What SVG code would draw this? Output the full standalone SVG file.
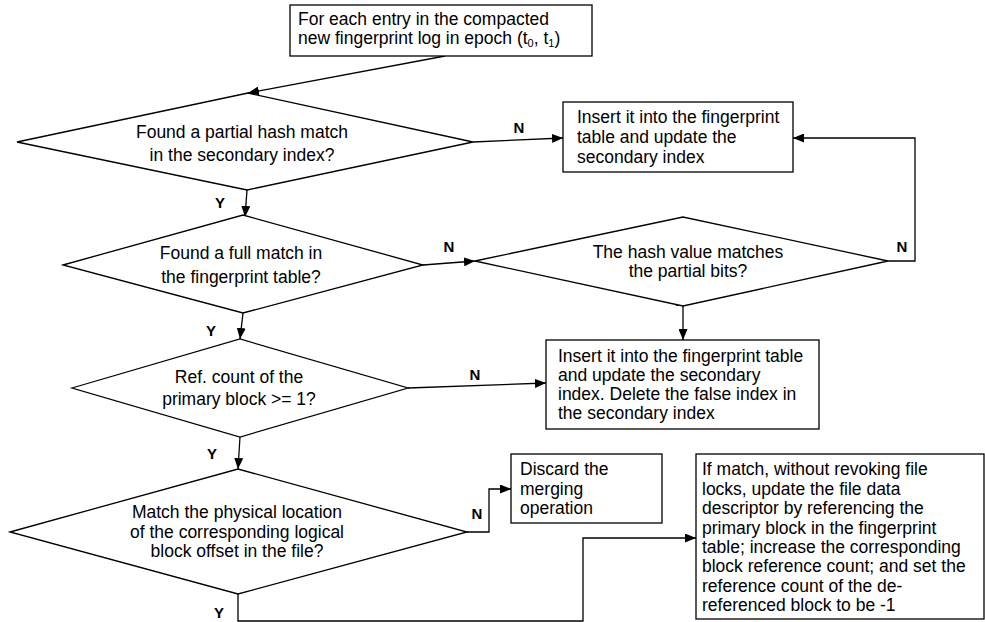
<svg xmlns="http://www.w3.org/2000/svg" width="985" height="622" viewBox="0 0 985 622">
<style>
  .shape { fill: #ffffff; stroke: #000000; stroke-width: 1.3; }
  .t { font-family: "Liberation Sans", Arial, sans-serif; font-size: 17.5px; fill: #000000; }
  .c { text-anchor: middle; }
  .lbl { font-family: "Liberation Sans", Arial, sans-serif; font-size: 15px; font-weight: bold; fill: #000000; text-anchor: middle; }
  .conn { fill: none; stroke: #000000; stroke-width: 1.3; marker-end: url(#arrow); }
</style>
<defs>
  <marker id="arrow" markerUnits="userSpaceOnUse" markerWidth="11" markerHeight="9" refX="11" refY="4.5" orient="auto">
    <path d="M0,0 L11,4.5 L0,9 z" fill="#000000"/>
  </marker>
</defs>
<rect width="985" height="622" fill="#ffffff"/>

<g id="connectors">
  <path class="conn" d="M445,56 L248,93"/>
  <path class="conn" d="M473,142 L563,138"/>
  <path class="conn" d="M247,190 L245,217"/>
  <path class="conn" d="M423,265 L475,261"/>
  <path class="conn" d="M888,261 L915,261 L915,138 L793,138"/>
  <path class="conn" d="M683,306 L683,340"/>
  <path class="conn" d="M243,313 L240,339"/>
  <path class="conn" d="M408,388 L546,383"/>
  <path class="conn" d="M240,437 L238,469"/>
  <path class="conn" d="M467,532 L489,532 L489,489 L511,489"/>
  <path class="conn" d="M238,594 L238,621 L583,621 L583,538 L696,538"/>
  <text class="lbl" x="519" y="133">N</text>
  <text class="lbl" x="220" y="208">Y</text>
  <text class="lbl" x="449" y="252">N</text>
  <text class="lbl" x="902" y="252">N</text>
  <text class="lbl" x="677" y="306">Y</text>
  <text class="lbl" x="211" y="336">Y</text>
  <text class="lbl" x="475" y="380">N</text>
  <text class="lbl" x="212" y="459">Y</text>
  <text class="lbl" x="477" y="519">N</text>
  <text class="lbl" x="219" y="618">Y</text>
</g>

<g id="start">
  <rect class="shape" x="290" y="5" width="302" height="51"/>
  <text class="t" x="298" y="25">For each entry in the compacted</text>
  <text class="t" x="298" y="44">new fingerprint log in epoch (t<tspan font-size="11" dy="3">0</tspan><tspan dy="-3">, t</tspan><tspan font-size="11" dy="3">1</tspan><tspan dy="-3">)</tspan></text>
</g>

<g id="d1">
  <polygon class="shape" points="17,142 248,93 473,142 247,190"/>
  <text class="t c" x="242" y="138">Found a partial hash match</text>
  <text class="t c" x="242" y="161">in the secondary index?</text>
</g>

<g id="box2">
  <rect class="shape" x="563" y="102" width="230" height="70"/>
  <text class="t" x="577" y="123">Insert it into the fingerprint</text>
  <text class="t" x="577" y="143">table and update the</text>
  <text class="t" x="577" y="163">secondary index</text>
</g>

<g id="d2">
  <polygon class="shape" points="63,265 243,215 423,265 243,313"/>
  <text class="t c" x="241" y="259">Found a full match in</text>
  <text class="t c" x="241" y="283">the fingerprint table?</text>
</g>

<g id="d3">
  <polygon class="shape" points="475,261 683,217 888,261 683,306"/>
  <text class="t c" x="688" y="258">The hash value matches</text>
  <text class="t c" x="688" y="277">the partial bits?</text>
</g>

<g id="box3">
  <rect class="shape" x="546" y="340" width="273" height="89"/>
  <text class="t" x="558" y="362">Insert it into the fingerprint table</text>
  <text class="t" x="558" y="381">and update the secondary</text>
  <text class="t" x="558" y="400">index. Delete the false index in</text>
  <text class="t" x="558" y="419">the secondary index</text>
</g>

<g id="d4">
  <polygon class="shape" points="72,388 240,339 408,388 240,437"/>
  <text class="t c" x="239" y="383">Ref. count of the</text>
  <text class="t c" x="239" y="405">primary block &gt;= 1?</text>
</g>

<g id="d5">
  <polygon class="shape" points="10,532 238,469 467,532 238,594"/>
  <text class="t c" x="237" y="518">Match the physical location</text>
  <text class="t c" x="237" y="538">of the corresponding logical</text>
  <text class="t c" x="237" y="557">block offset in the file?</text>
</g>

<g id="discard">
  <rect class="shape" x="511" y="454" width="151" height="69"/>
  <text class="t" x="520" y="475">Discard the</text>
  <text class="t" x="520" y="495">merging</text>
  <text class="t" x="520" y="514">operation</text>
</g>

<g id="update">
  <rect class="shape" x="696" y="454" width="288" height="165"/>
  <text class="t" x="702" y="475">If match, without revoking file</text>
  <text class="t" x="702" y="495">locks, update the file data</text>
  <text class="t" x="702" y="514">descriptor by referencing the</text>
  <text class="t" x="702" y="534">primary block in the fingerprint</text>
  <text class="t" x="702" y="553">table; increase the corresponding</text>
  <text class="t" x="702" y="572">block reference count; and set the</text>
  <text class="t" x="702" y="592">reference count of the de-</text>
  <text class="t" x="702" y="611">referenced block to be -1</text>
</g>
</svg>
